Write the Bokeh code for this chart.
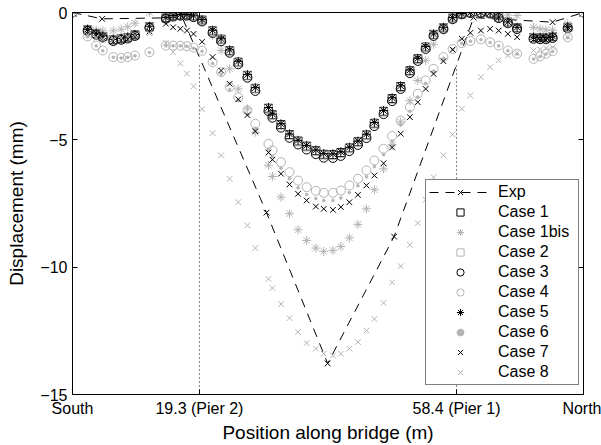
from bokeh.plotting import figure
from bokeh.models import Range1d, FixedTicker, LinearAxis, Legend, LegendItem
from bokeh.embed import file_html
from bokeh.resources import INLINE

# ---------------- data ----------------
# positions along the bridge (m): south span, main span, north span
position = [0.0, 2.3, 3.6, 4.6, 6.2, 7.4, 8.4, 9.5, 11.7, 14.2, 15.3, 16.4, 17.4, 18.4,
            19.7, 21.3, 22.6, 23.9, 25.2, 26.6, 27.8, 29.8, 30.4, 31.7, 33.0, 34.3, 35.6, 37.0, 38.2,
            39.6, 40.8, 42.1, 43.4, 44.7, 45.9, 47.3, 48.6, 49.9, 51.3, 52.5, 53.7, 54.9, 56.4, 57.8,
            59.2, 60.5, 62.1, 63.5, 64.8, 66.2, 67.6, 70.1, 71.1, 72.0, 73.0, 75.3, 77.7]

exp_position = [0.0, 4.5, 16.7, 29.5, 38.8, 48.9, 61.0, 73.0, 77.7]
exp_disp = [0.0, -0.25, -0.2, -7.86, -13.78, -8.8, -0.2, -0.38, 0.0]

case1 = [0.0, -0.68, -0.83, -0.94, -1.07, -1.03, -0.98, -0.88, -0.56, -0.21, -0.13, -0.09, -0.09, -0.14,
         -0.3, -0.72, -1.05, -1.5, -1.95, -2.47, -2.98, -3.76, -4.02, -4.4, -4.8, -5.05, -5.25, -5.43, -5.57,
         -5.58, -5.5, -5.32, -5.08, -4.81, -4.35, -3.88, -3.38, -2.91, -2.29, -1.82, -1.36, -0.86, -0.6, -0.22,
         -0.05, 0.0, 0.0, -0.02, -0.19, -0.38, -0.6, -0.98, -1.0, -1.0, -0.95, -0.58, 0.0]
case1bis = [0.0, -0.64, -0.7, -0.72, -0.72, -0.66, -0.56, -0.42, 0.0, -0.06, -0.05, -0.04, -0.05, -0.1,
            -0.35, -0.9, -1.49, -2.21, -3.0, -3.78, -4.7, -6.0, -6.44, -7.25, -7.9, -8.53, -8.95, -9.25, -9.38,
            -9.34, -9.19, -8.85, -8.32, -7.71, -6.96, -6.14, -5.2, -4.3, -3.46, -2.67, -1.88, -1.25, -0.7, -0.3,
            -0.08, -0.02, 0.0, 0.0, -0.04, -0.1, -0.12, -0.58, -0.64, -0.68, -0.7, -0.45, 0.0]
case2 = [0.0, -0.69, -0.84, -0.95, -1.08, -1.04, -0.99, -0.89, -0.57, -0.22, -0.14, -0.1, -0.1, -0.15,
         -0.31, -0.74, -1.07, -1.52, -1.97, -2.49, -3.0, -3.79, -4.05, -4.43, -4.83, -5.08, -5.28, -5.46, -5.6,
         -5.61, -5.53, -5.35, -5.11, -4.84, -4.38, -3.91, -3.41, -2.94, -2.32, -1.85, -1.38, -0.88, -0.61, -0.23,
         -0.06, -0.01, -0.01, -0.03, -0.2, -0.39, -0.61, -0.99, -1.01, -1.01, -0.96, -0.59, 0.0]
case3 = [0.0, -0.72, -0.87, -0.98, -1.12, -1.07, -1.02, -0.92, -0.6, -0.24, -0.16, -0.12, -0.12, -0.18,
         -0.35, -0.8, -1.13, -1.58, -2.03, -2.56, -3.08, -3.87, -4.13, -4.52, -4.92, -5.18, -5.38, -5.56, -5.7,
         -5.71, -5.63, -5.44, -5.2, -4.93, -4.46, -3.99, -3.48, -3.0, -2.38, -1.9, -1.43, -0.92, -0.65, -0.26,
         -0.07, -0.02, -0.02, -0.04, -0.22, -0.42, -0.65, -1.03, -1.05, -1.05, -1.0, -0.62, 0.0]
case4 = [0.0, -0.94, -1.3, -1.49, -1.75, -1.78, -1.75, -1.69, -1.56, -1.3, -1.3, -1.3, -1.32, -1.38,
         -1.5, -1.95, -2.34, -2.93, -3.33, -3.85, -4.37, -5.16, -5.42, -5.88, -6.27, -6.6, -6.86, -7.0, -7.08,
         -7.08, -6.99, -6.79, -6.53, -6.2, -5.81, -5.35, -4.85, -4.24, -3.72, -3.19, -2.67, -2.21, -1.75, -1.43,
         -1.2, -1.12, -1.05, -1.17, -1.3, -1.49, -1.62, -1.82, -1.72, -1.62, -1.52, -0.97, 0.0]
case5 = [0.0, -0.66, -0.81, -0.92, -1.05, -1.01, -0.96, -0.86, -0.54, -0.2, -0.12, -0.08, -0.08, -0.13,
         -0.28, -0.7, -1.03, -1.47, -1.92, -2.44, -2.95, -3.73, -3.99, -4.37, -4.77, -5.02, -5.22, -5.4, -5.54,
         -5.55, -5.47, -5.29, -5.05, -4.78, -4.32, -3.85, -3.35, -2.88, -2.26, -1.8, -1.34, -0.84, -0.58, -0.2,
         -0.04, 0.0, 0.0, -0.01, -0.18, -0.37, -0.58, -0.96, -0.98, -0.98, -0.93, -0.56, 0.0]
case6 = [0.0, -0.95, -1.31, -1.5, -1.76, -1.79, -1.76, -1.7, -1.57, -1.31, -1.31, -1.31, -1.33, -1.4,
         -1.52, -2.0, -2.42, -3.02, -3.45, -4.0, -4.55, -5.38, -5.66, -6.12, -6.52, -6.88, -7.15, -7.3, -7.38,
         -7.38, -7.28, -7.07, -6.8, -6.45, -6.05, -5.58, -5.05, -4.42, -3.88, -3.32, -2.78, -2.3, -1.8, -1.45,
         -1.21, -1.13, -1.06, -1.18, -1.31, -1.5, -1.63, -1.83, -1.73, -1.63, -1.53, -0.98, 0.0]
case7 = [0.0, -0.74, -0.88, -1.0, -1.14, -1.1, -1.05, -0.95, -0.75, -0.44, -0.58, -0.64, -0.71, -0.84,
         -1.15, -1.75, -2.28, -2.8, -3.41, -4.03, -4.66, -5.5, -5.78, -6.33, -6.75, -7.12, -7.38, -7.62, -7.71,
         -7.75, -7.64, -7.45, -7.16, -6.79, -6.4, -5.92, -5.3, -4.76, -4.11, -3.52, -3.0, -2.41, -1.91, -1.46,
         -1.03, -0.8, -0.71, -0.64, -0.71, -0.84, -0.97, -1.06, -1.08, -1.08, -1.03, -0.64, 0.0]
case8 = [0.0, -0.88, -1.0, -1.05, -1.05, -1.0, -0.95, -0.9, -0.82, -1.2, -1.56, -2.0, -2.4, -2.9,
         -3.8, -4.74, -5.61, -6.53, -7.45, -8.36, -9.25, -10.46, -10.82, -11.45, -12.0, -12.55, -12.98, -13.2, -13.4,
         -13.47, -13.4, -13.2, -12.94, -12.49, -12.03, -11.4, -10.6, -9.96, -9.12, -8.27, -7.35, -6.47, -5.61, -4.79,
         -3.78, -3.26, -2.54, -2.15, -1.88, -1.69, -1.58, -1.49, -1.45, -1.4, -1.36, -0.95, 0.0]

x_ticks = [0, 19.3, 58.4, 77.7]
x_tick_labels = ["South", "19.3 (Pier 2)", "58.4 (Pier 1)", "North"]
y_ticks = [-15, -10, -5, 0]
y_tick_labels = ["\u221215", "\u221210", "\u22125", "0"]
piers = [19.3, 58.4]
pier_line_bottom = [-15, -15]
pier_line_top = [-2, -2]

# ---------------- figure ----------------
FONT = "Liberation Sans"
BLACK = "#000000"
GREY = "#b3b3b3"

p = figure(width=601, height=445, output_backend="svg", toolbar_location=None,
           x_range=Range1d(0, 77.7), y_range=Range1d(-15, 0),
           min_border_left=72, min_border_right=18, min_border_top=12, min_border_bottom=51)
p.background_fill_color = "white"
p.border_fill_color = "white"
p.outline_line_color = BLACK
p.outline_line_width = 1
p.xgrid.visible = False
p.ygrid.visible = False

for ax in (p.xaxis[0], p.yaxis[0]):
    ax.major_tick_in = 5
    ax.major_tick_out = 0
    ax.minor_tick_line_color = None
    ax.axis_line_color = BLACK
    ax.major_tick_line_color = BLACK
    ax.major_label_text_font = FONT
    ax.major_label_text_font_size = "16px"
    ax.major_label_text_color = BLACK
    ax.axis_label_text_font = FONT
    ax.axis_label_text_font_size = "19px"
    ax.axis_label_text_font_style = "normal"
    ax.axis_label_text_color = BLACK

p.xaxis.ticker = FixedTicker(ticks=x_ticks)
p.xaxis.major_label_overrides = dict(zip(x_ticks, x_tick_labels))
p.xaxis.major_label_standoff = 5
p.xaxis.axis_label = "Position along bridge (m)"
p.xaxis.axis_label_standoff = 2

p.yaxis.ticker = FixedTicker(ticks=y_ticks)
p.yaxis.major_label_overrides = dict(zip(y_ticks, y_tick_labels))
p.yaxis.major_label_standoff = 5
p.yaxis.axis_label = "Displacement (mm)"
p.yaxis.axis_label_standoff = 10

# mirrored tick marks on the right and top (no labels)
right_ax = LinearAxis(ticker=FixedTicker(ticks=y_ticks), major_tick_in=5, major_tick_out=0,
                      minor_tick_line_color=None, axis_line_color=BLACK,
                      major_label_overrides={t: "" for t in y_ticks},
                      major_label_text_color=None, major_label_standoff=0)
p.add_layout(right_ax, "right")
top_ax = LinearAxis(ticker=FixedTicker(ticks=piers), major_tick_in=5, major_tick_out=0,
                    minor_tick_line_color=None, axis_line_color=BLACK,
                    major_label_overrides={t: "" for t in piers},
                    major_label_text_color=None, major_label_standoff=0)
p.add_layout(top_ax, "above")

# pier lines
p.segment(x0=piers, y0=pier_line_bottom, x1=piers, y1=pier_line_top,
          line_color=BLACK, line_width=1, line_dash="1 3")

# experimental
r_exp_l = p.line(exp_position, exp_disp, line_color=BLACK, line_width=1, line_dash="9 7")
r_exp_m = p.scatter(exp_position, exp_disp, marker="x", size=8, line_color=BLACK, line_width=1)

r1 = p.scatter(position, case1, marker="square", size=8, line_color=BLACK, fill_color=None, line_width=1)
r1b = p.scatter(position, case1bis, marker="asterisk", size=9, line_color=GREY, line_width=1)
r2 = p.scatter(position, case2, marker="square", size=8, line_color=GREY, fill_color=None, line_width=1)
r3 = p.scatter(position, case3, marker="circle", size=9, line_color=BLACK, fill_color=None, line_width=1)
r4 = p.scatter(position, case4, marker="circle", size=9, line_color=GREY, fill_color=None, line_width=1)
r5 = p.scatter(position, case5, marker="asterisk", size=9, line_color=BLACK, line_width=1)
r6 = p.scatter(position, case6, marker="circle", size=3, line_color=GREY, fill_color=GREY, line_width=0.5)
r7 = p.scatter(position, case7, marker="x", size=8, line_color=BLACK, line_width=1)
r8 = p.scatter(position, case8, marker="x", size=8, line_color=GREY, line_width=1)

legend = Legend(items=[
    LegendItem(label="Exp", renderers=[r_exp_l, r_exp_m]),
    LegendItem(label="Case 1", renderers=[r1]),
    LegendItem(label="Case 1bis", renderers=[r1b]),
    LegendItem(label="Case 2", renderers=[r2]),
    LegendItem(label="Case 3", renderers=[r3]),
    LegendItem(label="Case 4", renderers=[r4]),
    LegendItem(label="Case 5", renderers=[r5]),
    LegendItem(label="Case 6", renderers=[r6]),
    LegendItem(label="Case 7", renderers=[r7]),
    LegendItem(label="Case 8", renderers=[r8]),
], location=(353, 9), orientation="vertical",
    padding=3, spacing=2, margin=0,
    glyph_width=62, glyph_height=18, label_height=18, label_width=77, label_standoff=7,
    label_text_font=FONT, label_text_font_size="16px", label_text_color=BLACK,
    border_line_color=BLACK, border_line_width=1,
    background_fill_color="white", background_fill_alpha=1.0)
p.add_layout(legend)

open("out.html", "w").write(file_html(p, INLINE))
